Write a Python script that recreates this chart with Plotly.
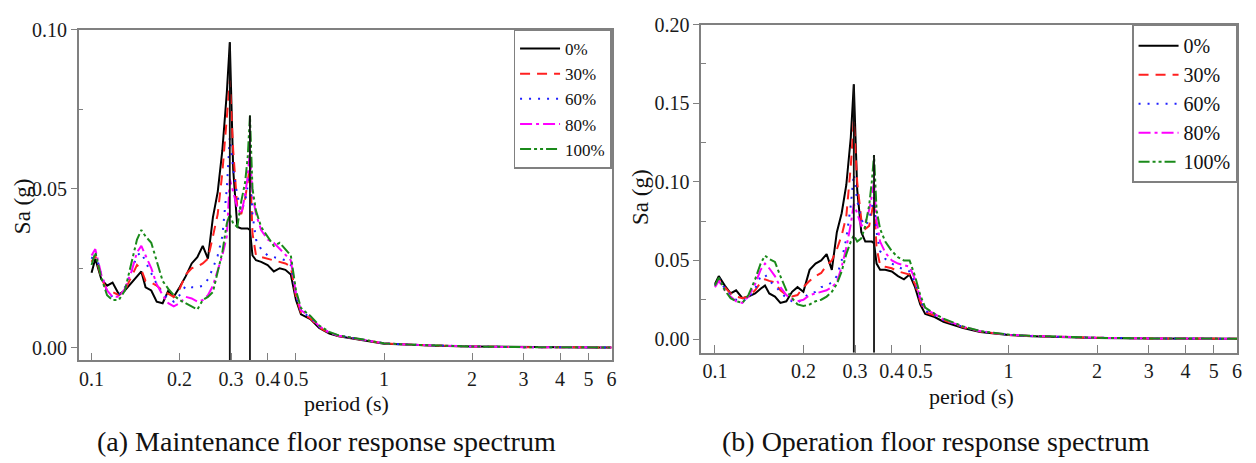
import plotly.graph_objects as go

# Shared period grid (s)
periods = [0.1, 0.103, 0.108, 0.113, 0.118, 0.124, 0.13, 0.137, 0.143, 0.148,
           0.153, 0.16, 0.167, 0.175, 0.183, 0.191, 0.2, 0.21, 0.22, 0.23,
           0.24, 0.25, 0.26, 0.27, 0.28, 0.29, 0.297, 0.305, 0.315, 0.325,
           0.335, 0.342, 0.348, 0.355, 0.365, 0.38, 0.40, 0.42, 0.44, 0.46,
           0.48, 0.5, 0.52, 0.56, 0.6, 0.65, 0.7, 0.8, 0.9, 1.0,
           1.2, 1.5, 2.0, 3.0, 4.0, 5.0, 6.0]

series_names = ["0%", "30%", "60%", "80%", "100%"]

# (a) Maintenance floor, Sa (g)
maint_0 = [0.0236, 0.0280, 0.0215, 0.0195, 0.0205, 0.0168, 0.0180, 0.0205, 0.0225, 0.0240,
           0.0190, 0.0180, 0.0145, 0.0140, 0.0180, 0.0160, 0.0190, 0.0225, 0.0265, 0.0285,
           0.0320, 0.0280, 0.0410, 0.0490, 0.0620, 0.0800, 0.0960, 0.0560, 0.0380, 0.0375,
           0.0375, 0.0375, 0.0370, 0.0290, 0.0275, 0.0270, 0.0260, 0.0240, 0.0250, 0.0245,
           0.0230, 0.0150, 0.0105, 0.0090, 0.0062, 0.0045, 0.0036, 0.0028, 0.0020, 0.0013,
           0.0010, 0.0006, 0.0004, 0.0002, 0.0001, 0.0001, 0.0001]
maint_30 = [0.0270, 0.0290, 0.0220, 0.0180, 0.0175, 0.0165, 0.0180, 0.0225, 0.0260, 0.0245,
            0.0210, 0.0205, 0.0195, 0.0180, 0.0170, 0.0160, 0.0185, 0.0230, 0.0250, 0.0255,
            0.0265, 0.0280, 0.0350, 0.0420, 0.0550, 0.0720, 0.0840, 0.0620, 0.0440, 0.0420,
            0.0470, 0.0520, 0.0580, 0.0360, 0.0290, 0.0285, 0.0280, 0.0275, 0.0270, 0.0265,
            0.0255, 0.0160, 0.0110, 0.0092, 0.0064, 0.0046, 0.0037, 0.0029, 0.0021, 0.0014,
            0.0010, 0.0007, 0.0004, 0.0002, 0.0001, 0.0001, 0.0001]
maint_60 = [0.0280, 0.0300, 0.0230, 0.0175, 0.0160, 0.0165, 0.0190, 0.0240, 0.0290, 0.0300,
            0.0270, 0.0235, 0.0200, 0.0170, 0.0155, 0.0145, 0.0165, 0.0195, 0.0190, 0.0190,
            0.0195, 0.0215, 0.0250, 0.0290, 0.0350, 0.0500, 0.0660, 0.0560, 0.0480, 0.0430,
            0.0460, 0.0510, 0.0560, 0.0420, 0.0340, 0.0310, 0.0290, 0.0285, 0.0280, 0.0275,
            0.0260, 0.0165, 0.0115, 0.0095, 0.0066, 0.0047, 0.0038, 0.0029, 0.0021, 0.0014,
            0.0010, 0.0007, 0.0004, 0.0002, 0.0001, 0.0001, 0.0001]
maint_80 = [0.0290, 0.0310, 0.0230, 0.0180, 0.0160, 0.0160, 0.0185, 0.0240, 0.0300, 0.0320,
            0.0290, 0.0250, 0.0200, 0.0165, 0.0140, 0.0130, 0.0140, 0.0160, 0.0155, 0.0145,
            0.0150, 0.0165, 0.0195, 0.0240, 0.0290, 0.0350, 0.0530, 0.0490, 0.0440, 0.0420,
            0.0480, 0.0540, 0.0620, 0.0480, 0.0420, 0.0370, 0.0340, 0.0330, 0.0310, 0.0290,
            0.0275, 0.0170, 0.0118, 0.0097, 0.0068, 0.0048, 0.0038, 0.0029, 0.0021, 0.0014,
            0.0010, 0.0007, 0.0004, 0.0002, 0.0001, 0.0001, 0.0001]
maint_100 = [0.0260, 0.0300, 0.0220, 0.0165, 0.0150, 0.0150, 0.0180, 0.0270, 0.0340, 0.0370,
             0.0350, 0.0330, 0.0270, 0.0210, 0.0185, 0.0165, 0.0150, 0.0140, 0.0130, 0.0120,
             0.0150, 0.0160, 0.0175, 0.0240, 0.0300, 0.0390, 0.0420, 0.0390, 0.0380, 0.0460,
             0.0520, 0.0600, 0.0730, 0.0500, 0.0430, 0.0380, 0.0350, 0.0320, 0.0330, 0.0310,
             0.0290, 0.0180, 0.0125, 0.0100, 0.0070, 0.0050, 0.0039, 0.0030, 0.0022, 0.0014,
             0.0010, 0.0007, 0.0004, 0.0002, 0.0001, 0.0001, 0.0001]

# (b) Operation floor, Sa (g)
oper_0 = [0.035, 0.040, 0.034, 0.029, 0.031, 0.026, 0.027, 0.029, 0.032, 0.034,
          0.029, 0.027, 0.023, 0.024, 0.030, 0.033, 0.030, 0.044, 0.048, 0.050,
          0.054, 0.044, 0.068, 0.080, 0.098, 0.128, 0.162, 0.095, 0.068, 0.062,
          0.062, 0.062, 0.061, 0.048, 0.044, 0.044, 0.043, 0.040, 0.038, 0.041,
          0.033, 0.022, 0.016, 0.014, 0.011, 0.009, 0.007, 0.0045, 0.0035, 0.0025,
          0.0018, 0.0012, 0.0007, 0.0004, 0.0003, 0.0002, 0.0002]
oper_30 = [0.034, 0.038, 0.033, 0.029, 0.027, 0.026, 0.027, 0.031, 0.036, 0.038,
           0.037, 0.036, 0.031, 0.028, 0.027, 0.028, 0.033, 0.037, 0.040, 0.042,
           0.047, 0.050, 0.057, 0.066, 0.078, 0.110, 0.139, 0.100, 0.076, 0.070,
           0.072, 0.080, 0.088, 0.058, 0.047, 0.046, 0.045, 0.043, 0.042, 0.041,
           0.035, 0.024, 0.017, 0.015, 0.012, 0.0095, 0.0075, 0.0048, 0.0036, 0.0026,
           0.0019, 0.0013, 0.0008, 0.0004, 0.0003, 0.0002, 0.0002]
oper_60 = [0.034, 0.039, 0.032, 0.028, 0.025, 0.024, 0.026, 0.032, 0.040, 0.041,
           0.037, 0.034, 0.030, 0.026, 0.024, 0.023, 0.026, 0.029, 0.030, 0.033,
           0.034, 0.036, 0.040, 0.050, 0.064, 0.085, 0.105, 0.088, 0.076, 0.072,
           0.076, 0.083, 0.090, 0.068, 0.056, 0.051, 0.048, 0.046, 0.044, 0.043,
           0.036, 0.025, 0.018, 0.015, 0.012, 0.0097, 0.0077, 0.0049, 0.0037, 0.0027,
           0.0019, 0.0013, 0.0008, 0.0004, 0.0003, 0.0002, 0.0002]
oper_80 = [0.033, 0.037, 0.031, 0.027, 0.024, 0.023, 0.027, 0.035, 0.044, 0.048,
           0.045, 0.040, 0.033, 0.028, 0.025, 0.024, 0.025, 0.028, 0.029, 0.030,
           0.031, 0.033, 0.036, 0.046, 0.058, 0.073, 0.086, 0.080, 0.072, 0.074,
           0.082, 0.091, 0.100, 0.075, 0.062, 0.055, 0.050, 0.048, 0.047, 0.046,
           0.038, 0.026, 0.019, 0.016, 0.0125, 0.010, 0.0078, 0.0050, 0.0038, 0.0027,
           0.0020, 0.0013, 0.0008, 0.0004, 0.0003, 0.0002, 0.0002]
oper_100 = [0.034, 0.039, 0.031, 0.026, 0.024, 0.023, 0.028, 0.038, 0.048, 0.053,
            0.051, 0.049, 0.040, 0.031, 0.026, 0.022, 0.021, 0.022, 0.024, 0.025,
            0.027, 0.030, 0.035, 0.043, 0.054, 0.062, 0.066, 0.062, 0.064, 0.072,
            0.085, 0.100, 0.117, 0.082, 0.070, 0.062, 0.056, 0.052, 0.050, 0.050,
            0.040, 0.028, 0.020, 0.016, 0.013, 0.0105, 0.008, 0.0051, 0.0039, 0.0028,
            0.0020, 0.0014, 0.0008, 0.0004, 0.0003, 0.0002, 0.0002]

# Periods of the two dominant peaks, marked with vertical lines
maint_marks = [0.297, 0.348]
maint_mark_tops = [0.096, 0.073]
oper_marks = [0.297, 0.348]
oper_mark_tops = [0.162, 0.117]

tick_vals = [0.1, 0.2, 0.3, 0.4, 0.5, 1, 2, 3, 4, 5, 6]
tick_text = ["0.1", "0.2", "0.3", "0.4", "0.5", "1", "2", "3", "4", "5", "6"]

colors = ["#000000", "#ff2020", "#1f1fff", "#ff00ff", "#1a8a1a"]
dashes = ["solid", "10px,7px", "2px,7px", "12px,4px,3px,4px", "11px,3px,3px,3px,3px,3px"]

FONT = "Liberation Serif, Times New Roman, serif"
W, H = 1256, 463


def px_x(p):
    return p / W


def px_y(p):
    return 1 - p / H


fig = go.Figure()

panels = [
    dict(xa="x", ya="y", legend="legend",
         data=[maint_0, maint_30, maint_60, maint_80, maint_100],
         marks=maint_marks, tops=maint_mark_tops, ymin=-0.004),
    dict(xa="x2", ya="y2", legend="legend2",
         data=[oper_0, oper_30, oper_60, oper_80, oper_100],
         marks=oper_marks, tops=oper_mark_tops, ymin=-0.0087),
]

for pnl in panels:
    for name, vals, col, dash in zip(series_names, pnl["data"], colors, dashes):
        fig.add_trace(go.Scatter(
            x=periods, y=vals, mode="lines", name=name,
            line=dict(color=col, width=2, dash=dash),
            xaxis=pnl["xa"], yaxis=pnl["ya"], legend=pnl["legend"],
        ))
    for xm, top in zip(pnl["marks"], pnl["tops"]):
        fig.add_trace(go.Scatter(
            x=[xm, xm], y=[pnl["ymin"], top], mode="lines", showlegend=False,
            line=dict(color="#111111", width=1.8),
            xaxis=pnl["xa"], yaxis=pnl["ya"],
        ))

axis_line = dict(showline=True, linecolor="#808080", linewidth=1.5, mirror=True,
                 showgrid=False, zeroline=False, tickcolor="#808080",
                 tickfont=dict(family=FONT, size=20, color="#1a1a1a"))

xcommon = dict(type="log", tickvals=tick_vals, ticktext=tick_text,
               ticks="inside", ticklen=8, tickwidth=1.2, **axis_line)

fig.update_layout(
    width=W, height=H,
    margin=dict(l=0, r=0, t=0, b=0),
    paper_bgcolor="white", plot_bgcolor="white",
    showlegend=True,
    xaxis=dict(domain=[px_x(79), px_x(614)], range=[-1.044, 0.778], anchor="y", **xcommon),
    yaxis=dict(domain=[px_y(358), px_y(19)], range=[-0.004, 0.1], anchor="x",
               tickvals=[0, 0.05, 0.1], tickformat=".2f",
               ticks="outside", ticklen=6, tickwidth=1.2,
               minor=dict(tickvals=[0.025, 0.075], ticks="inside", ticklen=5,
                          tickcolor="#808080"),
               **axis_line),
    xaxis2=dict(domain=[px_x(704), px_x(1242)], range=[-1.047, 0.778], anchor="y2", **xcommon),
    yaxis2=dict(domain=[px_y(350), px_y(14)], range=[-0.0087, 0.2], anchor="x2",
                tickvals=[0, 0.05, 0.1, 0.15, 0.2], tickformat=".2f",
                ticks="outside", ticklen=6, tickwidth=1.2,
                minor=dict(tickvals=[0.025, 0.075, 0.125, 0.175], ticks="inside",
                           ticklen=5, tickcolor="#808080"),
                **axis_line),
    legend=dict(x=px_x(614), y=px_y(19), xanchor="right", yanchor="top",
                bgcolor="white", bordercolor="#808080", borderwidth=1.5,
                font=dict(family=FONT, size=17, color="#111111"),
                tracegroupgap=0, itemwidth=40),
    legend2=dict(x=px_x(1242), y=px_y(14), xanchor="right", yanchor="top",
                 bgcolor="white", bordercolor="#808080", borderwidth=1.5,
                 font=dict(family=FONT, size=20, color="#111111"),
                 tracegroupgap=0, itemwidth=40),
)

annotations = [
    dict(text="Sa (g)", x=px_x(22), y=px_y(200), textangle=-90, size=23),
    dict(text="period (s)", x=px_x(348), y=px_y(402), textangle=0, size=22),
    dict(text="Sa (g)", x=px_x(643), y=px_y(190), textangle=-90, size=23),
    dict(text="period (s)", x=px_x(975), y=px_y(395), textangle=0, size=22),
    dict(text="(a) Maintenance floor response spectrum", x=px_x(328), y=px_y(441),
         textangle=0, size=28),
    dict(text="(b) Operation floor response spectrum", x=px_x(940), y=px_y(441),
         textangle=0, size=28),
]
for a in annotations:
    fig.add_annotation(text=a["text"], x=a["x"], y=a["y"], xref="paper", yref="paper",
                       xanchor="center", yanchor="middle", showarrow=False,
                       textangle=a["textangle"],
                       font=dict(family=FONT, size=a["size"], color="#111111"))

fig.write_html("out.html")
